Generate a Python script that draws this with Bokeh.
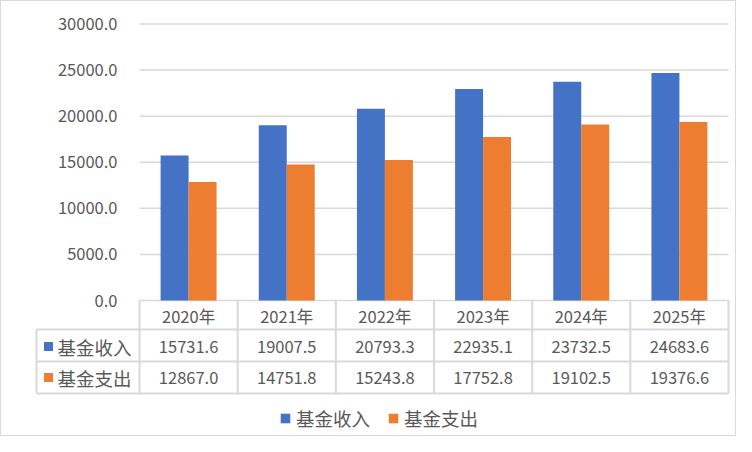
from bokeh.plotting import figure
from bokeh.layouts import column
from bokeh.models import (ColumnDataSource, Range1d, FixedTicker, NumeralTickFormatter,
                          Legend, LegendItem)
from bokeh.transform import dodge
from bokeh.core.properties import value
from bokeh.embed import file_html
from bokeh.resources import INLINE

# data
years = ["2020年", "2021年", "2022年", "2023年", "2024年", "2025年"]
income = [15731.6, 19007.5, 20793.3, 22935.1, 23732.5, 24683.6]
expense = [12867.0, 14751.8, 15243.8, 17752.8, 19102.5, 19376.6]
series_names = ["基金收入", "基金支出"]
y_ticks = [0, 5000, 10000, 15000, 20000, 25000, 30000]

BLUE = "#4472C4"
ORANGE = "#ED7D31"
GRID = "#D9D9D9"
TEXT = "#595959"
FONT = "Noto Sans CJK SC"
NUM_FS = "16.5px"
CJK_FS = "18.5px"

# layout in pixels (figure sits inside a 1px border)
W, H = 734, 434
PLOT_L, PLOT_R = 138, 727      # chart area left/right inside the figure
Y_TOP, Y_ZERO = 22.5, 299      # pixel rows of the 30000 and 0 gridlines
n = len(years)
ppu = (PLOT_R - PLOT_L) / n
vpp = y_ticks[-1] / (Y_ZERO - Y_TOP)   # value per pixel

xs = [i + 0.5 for i in range(n)]
src = ColumnDataSource(dict(x=xs, income=income, expense=expense, year=years,
                            inc_txt=[f"{v:.1f}" for v in income],
                            exp_txt=[f"{v:.1f}" for v in expense]))

p = figure(width=W, height=H, output_backend="svg", toolbar_location=None,
           x_range=Range1d(-PLOT_L / ppu, n + (W - PLOT_R) / ppu),
           y_range=Range1d(-(H - Y_ZERO) * vpp, y_ticks[-1] + Y_TOP * vpp),
           min_border=0)
# table range: pixels below the zero line
p.extra_y_ranges = {"tbl": Range1d(H - Y_ZERO, -Y_ZERO)}
p.xaxis.visible = False
p.grid.visible = False
p.outline_line_color = None

# gridlines of the value axis
p.segment(x0=[0] * len(y_ticks), x1=[n] * len(y_ticks), y0=y_ticks, y1=y_ticks,
          line_color=GRID, line_width=1.5)

BAR_W = 0.285
r_inc = p.vbar(x=dodge("x", -BAR_W / 2, range=p.x_range), top="income", width=BAR_W,
               source=src, fill_color=BLUE, line_color=None)
r_exp = p.vbar(x=dodge("x", BAR_W / 2, range=p.x_range), top="expense", width=BAR_W,
               source=src, fill_color=ORANGE, line_color=None)

ax = p.yaxis[0]
ax.fixed_location = 0
ax.bounds = (0, y_ticks[-1])
ax.ticker = FixedTicker(ticks=y_ticks)
ax.formatter = NumeralTickFormatter(format="0.0")
ax.axis_line_color = None
ax.major_tick_line_color = None
ax.minor_tick_line_color = None
ax.major_tick_out = 0
ax.major_tick_in = 0
ax.major_label_standoff = 22
ax.major_label_text_font = FONT
ax.major_label_text_font_size = NUM_FS
ax.major_label_text_color = TEXT

# ---- data table under the bars
head_left = -(139 - 36) / ppu
rows_y = [29, 61, 93]
p.segment(x0=[head_left] * 3, x1=[n] * 3, y0=rows_y, y1=rows_y, y_range_name="tbl",
          line_color=GRID, line_width=2)
p.segment(x0=list(range(n + 1)), x1=list(range(n + 1)), y0=[0] * (n + 1), y1=[93] * (n + 1),
          y_range_name="tbl", line_color=GRID, line_width=2)
p.segment(x0=[head_left], x1=[head_left], y0=[29], y1=[93], y_range_name="tbl",
          line_color=GRID, line_width=2)

num = dict(text_font=value(FONT), text_font_size=NUM_FS, text_color=TEXT,
           text_align="center", text_baseline="middle", y_range_name="tbl")
p.text(x="x", y=15, text="year", source=src, **num)
p.text(x="x", y=46, text="inc_txt", source=src, **num)
p.text(x="x", y=77, text="exp_txt", source=src, **num)

p.rect(x=[-(139 - 48) / ppu] * 2, y=[46, 77], width=9 / ppu, height=9, y_range_name="tbl",
       fill_color=[BLUE, ORANGE], line_color=None)
p.text(x=[-(139 - 57) / ppu] * 2, y=[46, 77], text=series_names, y_range_name="tbl",
       text_font=value(FONT), text_font_size=CJK_FS, text_color=TEXT,
       text_align="left", text_baseline="middle")

# ---- legend
legend = Legend(items=[LegendItem(label=series_names[0], renderers=[r_inc]),
                       LegendItem(label=series_names[1], renderers=[r_exp])],
                orientation="horizontal", location=(278, 4), padding=0, margin=0,
                spacing=17, glyph_width=12, glyph_height=12, label_standoff=5,
                label_height=20, label_text_font=FONT, label_text_font_size=CJK_FS,
                label_text_color=TEXT, border_line_color=None, background_fill_alpha=0)
p.add_layout(legend)

layout = column(p, spacing=0, styles={"border": "1px solid #D9D9D9"})

open("out.html", "w").write(file_html(layout, INLINE))
